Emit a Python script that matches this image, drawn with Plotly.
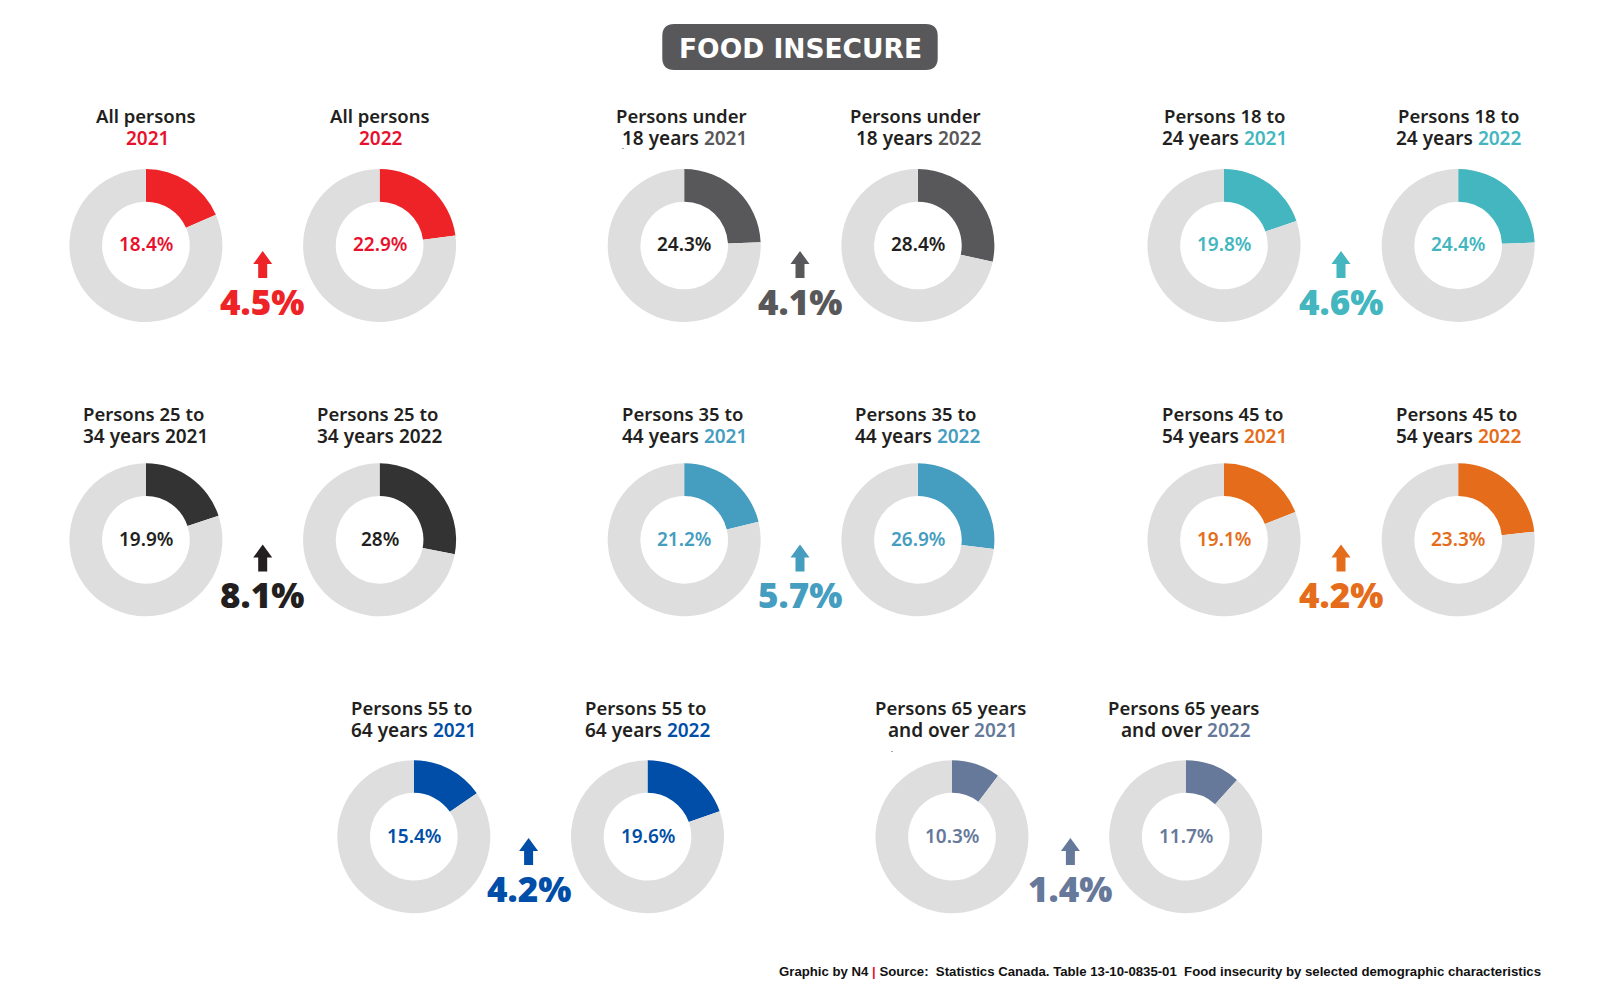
import plotly.graph_objects as go

WIDTH = 1600
HEIGHT = 999

# data
first_lines = ["All persons", "Persons under", "Persons 18 to", "Persons 25 to",
               "Persons 35 to", "Persons 45 to", "Persons 55 to", "Persons 65 years"]
second_lines = ["", "18 years ", "24 years ", "34 years ", "44 years ", "54 years ", "64 years ", "and over "]
values_2021 = [18.4, 24.3, 19.8, 19.9, 21.2, 19.1, 15.4, 10.3]
values_2022 = [22.9, 28.4, 24.4, 28, 26.9, 23.3, 19.6, 11.7]
changes = [4.5, 4.1, 4.6, 8.1, 5.7, 4.2, 4.2, 1.4]
years = ["2021", "2022"]
title = "FOOD INSECURE"
source_start = "Graphic by N4 "
source_end = " Source:  Statistics Canada. Table 13-10-0835-01  Food insecurity by selected demographic characteristics"

# styling per group
colors = ["#ee2328", "#58585a", "#43b6bf", "#333333", "#459dc0", "#e56c1a", "#004ea8", "#66799a"]
text_colors = ["#e8112d", "#58585a", "#43b6bf", "#231f20", "#459dc0", "#e56c1a", "#004ea8", "#66799a"]
ring_label_colors = ["#e8112d", "#231f20", "#43b6bf", "#231f20", "#459dc0", "#e56c1a", "#004ea8", "#66799a"]
track_color = "#dedede"
ink = "#231f20"

# layout of the panels, in pixels
left_x = [145.9, 684.2, 1224, 145.9, 684.2, 1224, 413.8, 952]
right_x = [379.6, 917.9, 1458.2, 379.6, 917.9, 1458.2, 647.5, 1185.7]
center_y = [245.5, 245.5, 245.5, 539.8, 539.8, 539.8, 836.7, 836.7]
line1_y = [115.3, 115.3, 115.3, 413, 413, 413, 707, 707]
line2_y = [137.8, 137.8, 137.8, 435.7, 435.7, 435.7, 729.6, 729.6]
line1_shift = [0, -2.5, 0, -2.5, -2, -2, -2, -2]
line2_shift = [1.5, 0.5, 0, -0.5, 0, 0, 0, 0.5]
change_x = [261.7, 800, 1341, 261.7, 800, 1341, 528.6, 1070.4]
change_y = [301, 301, 301, 594, 594, 594, 888, 888]
arrow_x = [262.7, 800, 1341, 262.7, 800, 1341, 528.6, 1070.4]
arrow_top = [251, 251, 251, 544.5, 544.5, 544.5, 838, 838]
radius = 76.5
hole = 0.573
label_font = "Noto Sans"
stray_dots = [(623, 146), (892, 749)]


def px(x):
    return x / WIDTH


def py(y):
    return 1 - y / HEIGHT


fig = go.Figure()


def add_text(x, y, text, size, color, family=label_font, weight=400):
    fig.add_annotation(x=px(x), y=py(y), xref="paper", yref="paper", text=text, showarrow=False,
                       xanchor="center", yanchor="middle",
                       font=dict(family=family, size=size, color=color, weight=weight))


for i in range(len(first_lines)):
    for j, (cx, value) in enumerate([(left_x[i], values_2021[i]), (right_x[i], values_2022[i])]):
        fig.add_trace(go.Pie(
            values=[value, 100 - value],
            sort=False, direction="clockwise", rotation=0, hole=hole,
            textinfo="none", hoverinfo="skip", showlegend=False,
            marker=dict(colors=[colors[i], track_color], line=dict(width=0)),
            domain=dict(x=[px(cx - radius), px(cx + radius)],
                        y=[py(center_y[i] + radius), py(center_y[i] - radius)]),
        ))
        add_text(cx, center_y[i] - 1, f"{value}%", 19, ring_label_colors[i], weight=600)

        # the year picks up the group colour
        add_text(cx + line1_shift[i], line1_y[i], first_lines[i], 18.5, ink, weight=600)
        year_label = f'{second_lines[i]}<span style="color:{text_colors[i]}">{years[j]}</span>'
        add_text(cx + line2_shift[i], line2_y[i], year_label, 19, ink, weight=600)

    mark_color = colors[i] if i != 3 else ink
    add_text(change_x[i], change_y[i], f"{changes[i]}%", 35, mark_color, weight=900)

    # up arrow between the two rings
    mid, top = arrow_x[i], arrow_top[i]
    arrow = (f"M {px(mid)} {py(top)} L {px(mid + 9.5)} {py(top + 13)} L {px(mid + 4.5)} {py(top + 13)} "
             f"L {px(mid + 4.5)} {py(top + 27)} L {px(mid - 4.5)} {py(top + 27)} "
             f"L {px(mid - 4.5)} {py(top + 13)} L {px(mid - 9.5)} {py(top + 13)} Z")
    fig.add_shape(type="path", path=arrow, xref="paper", yref="paper", fillcolor=mark_color, line_width=0)

# title pill
x0, x1, y0, y1, r = 662.3, 937.7, 24, 70, 12
pill = (f"M {px(x0 + r)} {py(y0)} L {px(x1 - r)} {py(y0)} Q {px(x1)} {py(y0)} {px(x1)} {py(y0 + r)} "
        f"L {px(x1)} {py(y1 - r)} Q {px(x1)} {py(y1)} {px(x1 - r)} {py(y1)} "
        f"L {px(x0 + r)} {py(y1)} Q {px(x0)} {py(y1)} {px(x0)} {py(y1 - r)} "
        f"L {px(x0)} {py(y0 + r)} Q {px(x0)} {py(y0)} {px(x0 + r)} {py(y0)} Z")
fig.add_shape(type="path", path=pill, xref="paper", yref="paper", fillcolor="#58585a", line_width=0)
add_text(800, 48, title, 26.5, "#ffffff", family="DejaVu Sans", weight=700)

# two stray specks in the original artwork
for dot_x, dot_y in stray_dots:
    add_text(dot_x, dot_y, ".", 7, "#111111")

# source line
fig.add_annotation(x=px(1542.5), y=py(971.5), xref="paper", yref="paper", showarrow=False,
                   xanchor="right", yanchor="middle",
                   text=f'{source_start}<span style="color:#e8112d">|</span>{source_end}',
                   font=dict(family="Liberation Sans", size=13.2, color="#111111", weight=700))

fig.update_layout(width=WIDTH, height=HEIGHT, margin=dict(l=0, r=0, t=0, b=0),
                  paper_bgcolor="white", plot_bgcolor="white")

fig.write_html("out.html", config={"displayModeBar": False},
               post_script="document.body.style.margin='0';document.body.style.overflow='hidden';")
